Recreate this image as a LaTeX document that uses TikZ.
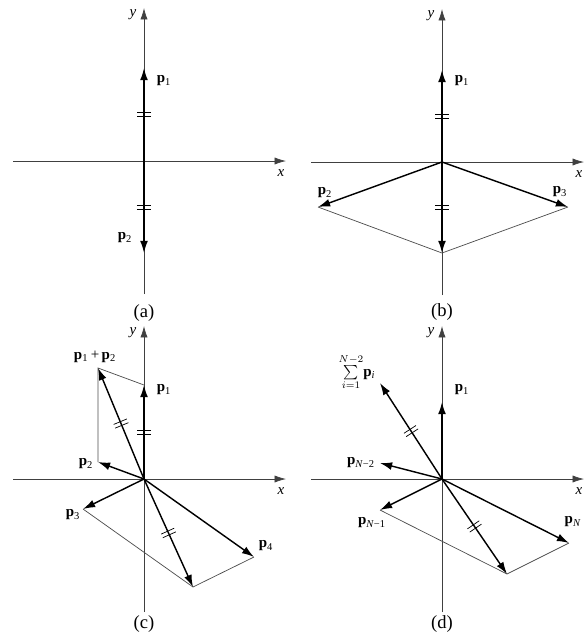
\documentclass[tikz,border=0pt]{standalone}
\usepackage{fontspec}
\setmainfont{Liberation Serif}
\usetikzlibrary{arrows.meta,decorations.markings}
\newcommand{\vp}[1]{\textbf{p}\textsubscript{#1}}
\newcommand{\axesxy}[1]{
  \coordinate (#1o) at (0,0);
  \coordinate (#1xl) at (-131,0);
  \coordinate (#1xr) at (142,0);
  \coordinate (#1yb) at (0,133);
  \coordinate (#1yt) at (0,-153);
  \draw [axis] (#1xl) -- (#1xr);
  \draw [axis] (#1yb) -- (#1yt);
  \node [lbl] (#1x) at (137,12) {\textit{x}};
  \node [lbl] (#1y) at (-11,-146) {\textit{y}};
}

\begin{document}
\begin{tikzpicture}[x=0.7pt,y=-0.7pt,
  axis/.style={draw=black!75,line width=.5pt,-{Latex[length=8pt,width=5pt]}},
  vec/.style={line width=1pt,-{Latex[length=8.5pt,width=5.5pt]}},
  side/.style={draw=black!70,line width=.5pt},
  eqtick/.style={postaction={decorate},decoration={markings,mark=at position .5 with {\draw [line width=.5pt,-] (-1.4pt,-5pt)--(-1.4pt,5pt) (1.4pt,-5pt)--(1.4pt,5pt);}}},
  lbl/.style={font=\fontsize{10.5}{12}\selectfont},
  capt/.style={font=\fontsize{13}{15}\selectfont}]
\useasboundingbox (0,0) rectangle (587,643);
\begin{scope}[shift={(144,161)}]
  \axesxy{a}
  \coordinate (a1) at (0,-93);
  \coordinate (a2) at (0,92);
  \draw [vec,eqtick] (ao) to (a1);
  \draw [vec,eqtick] (ao) to (a2);
  \node [lbl] (la1) at (20,-80) {\vp{1}};
  \node [lbl] (la2) at (-19,77) {\vp{2}};
\end{scope}
\begin{scope}[shift={(442,162)}]
  \axesxy{b}
  \coordinate (b1) at (0,-92);
  \coordinate (b2) at (-124,45);
  \coordinate (b3) at (126,45);
  \coordinate (b23) at (0,91);
  \draw [side] (b2) -- (b23) -- (b3);
  \draw [vec,eqtick] (bo) to (b1);
  \draw [vec] (bo) to (b2);
  \draw [vec] (bo) to (b3);
  \draw [vec,eqtick] (bo) to (b23);
  \node [lbl] (lb1) at (20,-81) {\vp{1}};
  \node [lbl] (lb2) at (-117,31) {\vp{2}};
  \node [lbl] (lb3) at (118,30) {\vp{3}};
\end{scope}
\begin{scope}[shift={(144,479)}]
  \axesxy{c}
  \coordinate (c1) at (0,-94);
  \coordinate (c2) at (-46,-17);
  \coordinate (c12) at (-46,-111);
  \coordinate (c3) at (-61,30);
  \coordinate (c4) at (110,78);
  \coordinate (c34) at (49,108);
  \draw [side] (c1) -- (c12) -- (c2);
  \draw [side] (c3) -- (c34) -- (c4);
  \draw [vec,eqtick] (co) to (c1);
  \draw [vec] (co) to (c2);
  \draw [vec,eqtick] (co) to (c12);
  \draw [vec] (co) to (c3);
  \draw [vec] (co) to (c4);
  \draw [vec,eqtick] (co) to (c34);
  \node [lbl] (lc12) at (-49,-122) {\vp{1}\,+\,\vp{2}};
  \node [lbl] (lc1) at (20,-89) {\vp{1}};
  \node [lbl] (lc2) at (-58,-15) {\vp{2}};
  \node [lbl] (lc3) at (-71,36) {\vp{3}};
  \node [lbl] (lc4) at (122,67) {\vp{4}};
\end{scope}
\begin{scope}[shift={(442,479)}]
  \axesxy{d}
  \coordinate (d1) at (0,-77);
  \coordinate (ds) at (-62,-96);
  \coordinate (dn2) at (-62,-16);
  \coordinate (dn1) at (-62,31);
  \coordinate (dn) at (127,64);
  \coordinate (dnn) at (65,95);
  \draw [side] (dn1) -- (dnn) -- (dn);
  \draw [vec] (do) to (d1);
  \draw [vec,eqtick] (do) to (ds);
  \draw [vec] (do) to (dn2);
  \draw [vec] (do) to (dn1);
  \draw [vec] (do) to (dn);
  \draw [vec,eqtick] (do) to (dnn);
  \node [lbl] (lds) at (-85,-107) {$\sum\limits_{i=1}^{N-2}$\textbf{p}\textsubscript{\textit{i}}};
  \node [lbl] (ld1) at (20,-89) {\vp{1}};
  \node [lbl] (ldn2) at (-81,-16) {\vp{\textit{N}−2}};
  \node [lbl] (ldn1) at (-70,44) {\vp{\textit{N}−1}};
  \node [lbl] (ldn) at (131,43) {\vp{\textit{N}}};
\end{scope}
\node [capt] (capa) at (144,313) {(a)};
\node [capt] (capb) at (442,312) {(b)};
\node [capt] (capc) at (144,624) {(c)};
\node [capt] (capd) at (442,624) {(d)};
\end{tikzpicture}
\end{document}
